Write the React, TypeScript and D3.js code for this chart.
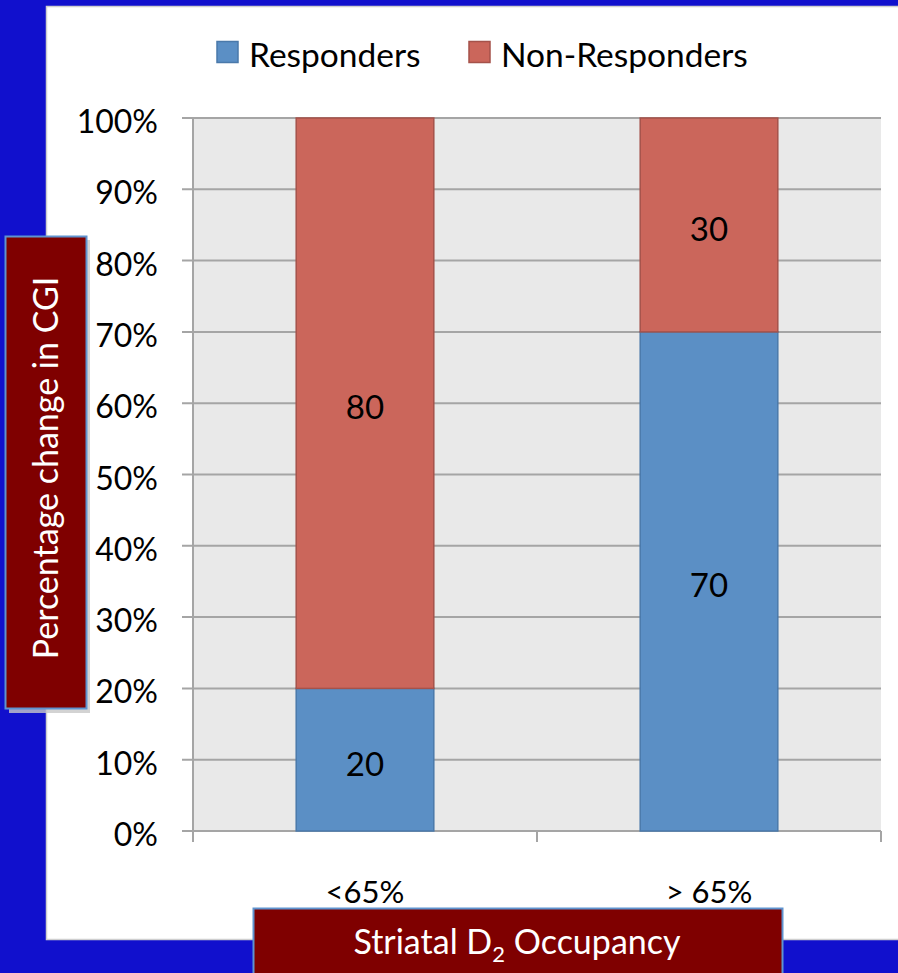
import React from "react";
import * as d3 from "d3";

// Occupancy groups and the share of responders / non-responders in each
const categories = ["<65%", "> 65%"];
const responders = [20, 70];
const nonResponders = [80, 30];
const seriesNames = ["Responders", "Non-Responders"];
const yTicks = [0, 10, 20, 30, 40, 50, 60, 70, 80, 90, 100];

const W = 898;
const H = 973;
const FONT = "Lato, 'Open Sans', sans-serif";

const COLORS = {
  page: "#1110cd",
  panel: "#ffffff",
  plotBg: "#e9e9e9",
  grid: "#a5a5a5",
  blue: "#5b8fc5",
  blueEdge: "#4a79aa",
  red: "#cb665b",
  redEdge: "#a5524a",
  labelBox: "#7f0000",
  labelBorder: "#5f93cf",
};

export default function App() {
  const plot = { left: 193, right: 881, top: 118, bottom: 831 };

  const x = d3
    .scaleBand<string>()
    .domain(categories)
    .range([plot.left, plot.right])
    .paddingInner(0.6)
    .paddingOuter(0.3);

  const y = d3.scaleLinear().domain([0, 100]).range([plot.bottom, plot.top]);

  const rows = categories.map((c, i) => ({
    cat: c,
    Responders: responders[i],
    "Non-Responders": nonResponders[i],
  }));
  const stacked = d3.stack<any>().keys(seriesNames)(rows);
  const fills = [COLORS.blue, COLORS.red];
  const edges = [COLORS.blueEdge, COLORS.redEdge];

  const step = (plot.right - plot.left) / categories.length;
  const catBounds = d3.range(categories.length + 1).map((i) => plot.left + i * step);

  const legendX = [217, 469];

  return (
    <div style={{ position: "absolute", left: 0, top: 0, width: W, height: H, overflow: "hidden" }}>
      <svg width={W} height={H} style={{ display: "block" }} fontFamily={FONT}>
        <rect x={0} y={0} width={W} height={H} fill={COLORS.page} />
        {/* white chart panel */}
        <rect x={46.5} y={6.5} width={W} height={933} fill={COLORS.panel} stroke="#cfcfcf" strokeWidth={1.5} />

        {/* legend */}
        {seriesNames.map((name, i) => (
          <g key={name}>
            <rect x={legendX[i]} y={41.5} width={21} height={21} fill={fills[i]} stroke={edges[i]} strokeWidth={1.5} />
            <text x={legendX[i] + 32} y={67} fontSize={33.5} fill="#000">
              {name}
            </text>
          </g>
        ))}

        {/* plot background */}
        <rect x={plot.left} y={plot.top} width={plot.right - plot.left} height={plot.bottom - plot.top} fill={COLORS.plotBg} />

        {/* horizontal gridlines with left tick stubs */}
        {yTicks.map((t) => (
          <line key={t} x1={182} x2={plot.right} y1={y(t)} y2={y(t)} stroke={COLORS.grid} strokeWidth={2} />
        ))}
        {/* y axis line */}
        <line x1={plot.left} x2={plot.left} y1={plot.top} y2={842} stroke={COLORS.grid} strokeWidth={2} />
        {/* x axis tick marks */}
        {catBounds.map((bx, i) => (
          <line key={i} x1={bx} x2={bx} y1={plot.bottom} y2={842} stroke={COLORS.grid} strokeWidth={2} />
        ))}

        {/* y tick labels */}
        {yTicks.map((t) => (
          <text key={t} x={158} y={y(t) + 15} textAnchor="end" fontSize={32} fill="#000">
            {t}%
          </text>
        ))}

        {/* stacked bars */}
        {stacked.map((layer, si) =>
          layer.map((d, i) => {
            const bx = x(categories[i])!;
            const y0 = y(d[0]);
            const y1 = y(d[1]);
            return (
              <g key={`${si}-${i}`}>
                <rect
                  x={bx}
                  y={y1}
                  width={x.bandwidth()}
                  height={y0 - y1}
                  fill={fills[si]}
                  stroke={edges[si]}
                  strokeWidth={1.5}
                />
                <text
                  x={bx + x.bandwidth() / 2}
                  y={(y0 + y1) / 2 + 16}
                  textAnchor="middle"
                  fontSize={33}
                  fill="#000"
                >
                  {d[1] - d[0]}
                </text>
              </g>
            );
          })
        )}

        {/* category labels */}
        {categories.map((c) => (
          <text key={c} x={x(c)! + x.bandwidth() / 2} y={903} textAnchor="middle" fontSize={31} fill="#000">
            {c}
          </text>
        ))}

        {/* y axis title box */}
        <rect x={9} y={240} width={81} height={473} fill="#c8c8c8" opacity={0.8} />
        <rect x={5.5} y={236.5} width={81} height={472} fill={COLORS.labelBox} stroke={COLORS.labelBorder} strokeWidth={2} />
        <text
          transform={`translate(58, 468)rotate(-90)`}
          textAnchor="middle"
          fontSize={34}
          fill="#fff"
        >
          Percentage change in CGI
        </text>

        {/* x axis title box */}
        <rect x={253.5} y={908.5} width={529} height={80} fill={COLORS.labelBox} stroke={COLORS.labelBorder} strokeWidth={2} />
        <text x={517} y={954} textAnchor="middle" fontSize={34} fill="#fff">
          Striatal D<tspan fontSize={22} dy={8}>2</tspan>
          <tspan dy={-8}> Occupancy</tspan>
        </text>
      </svg>
    </div>
  );
}
